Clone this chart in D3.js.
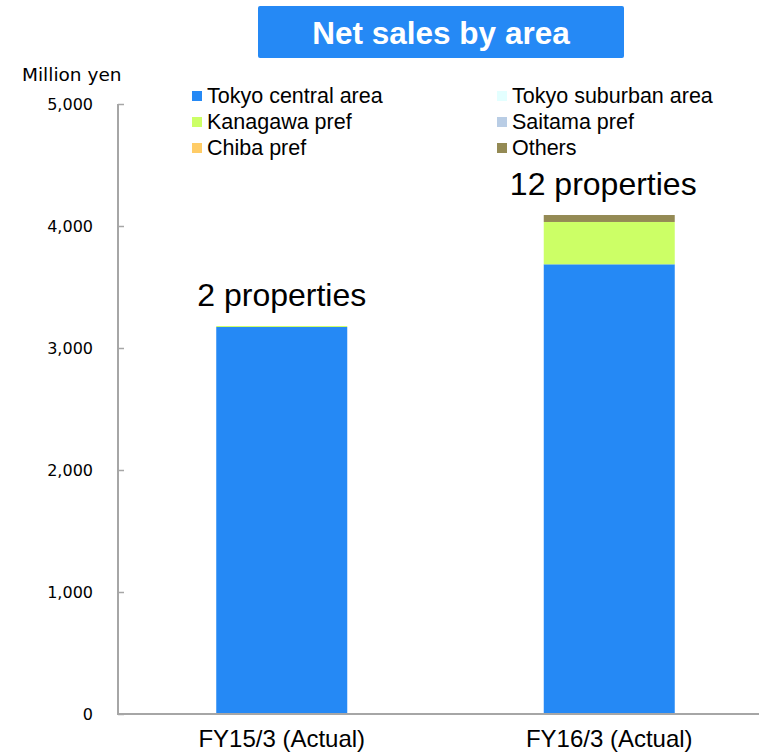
<!DOCTYPE html>
<html>
<head>
<meta charset="utf-8">
<script src="https://cdn.jsdelivr.net/npm/d3@7"></script>
<style>
  html, body { margin: 0; padding: 0; background: #fff; }
  svg { display: block; }
</style>
</head>
<body>
<script>
// Fiscal years on the x axis
const periods = ["FY15/3 (Actual)", "FY16/3 (Actual)"];
// Net sales by area, million yen
const tokyoCentral  = [3172, 3686];
const tokyoSuburban = [0, 0];
const kanagawa      = [8, 347];
const saitama       = [0, 0];
const chiba         = [0, 0];
const others        = [0, 57];
// Property counts shown above each bar
const propertyLabels = ["2 properties", "12 properties"];
// Y axis ticks
const yTicks = [0, 1000, 2000, 3000, 4000, 5000];

const seriesNames = ["Tokyo central area", "Tokyo suburban area", "Kanagawa pref", "Saitama pref", "Chiba pref", "Others"];
const seriesValues = [tokyoCentral, tokyoSuburban, kanagawa, saitama, chiba, others];
const seriesColors = ["#2589f5", "#e3ffff", "#ccff66", "#b9cde5", "#ffcc66", "#948a54"];

const SANS = "'Liberation Sans', Arial, sans-serif";
const AXISFONT = "'DejaVu Sans', Verdana, sans-serif";

const W = 759, H = 753;
const svg = d3.select("body").append("svg").attr("width", W).attr("height", H);

const x = d3.scaleBand().domain(periods).range([118, 773]).paddingInner(0.6).paddingOuter(0.3);
const y = d3.scaleLinear().domain([0, 5000]).range([714, 104]);

// Title banner
const title = svg.append("g");
title.append("rect").attr("x", 258).attr("y", 6).attr("width", 366).attr("height", 52)
  .attr("rx", 2).attr("fill", "#2589f5");
title.append("text").attr("x", 441).attr("y", 44).attr("text-anchor", "middle")
  .attr("font-family", SANS).attr("font-weight", "bold")
  .attr("font-size", 31.5).attr("fill", "#fff").text("Net sales by area");

// Stacked data
const rows = periods.map((p, i) => {
  const r = { period: p };
  seriesNames.forEach((n, k) => r[n] = seriesValues[k][i]);
  return r;
});
const stacked = d3.stack().keys(seriesNames)(rows);

svg.append("g").selectAll("g").data(stacked).join("g")
  .attr("fill", (d, k) => seriesColors[k])
  .selectAll("rect").data(d => d.filter(s => s[1] - s[0] > 0)).join("rect")
  .attr("x", d => x(d.data.period))
  .attr("width", x.bandwidth())
  .attr("y", d => y(d[1]))
  .attr("height", d => y(d[0]) - y(d[1]));

// Y axis with inward ticks
const yAxis = svg.append("g").attr("transform", "translate(118,0)")
  .call(d3.axisRight(y).tickValues(yTicks).tickSize(6).tickFormat(""));
yAxis.select(".domain").attr("stroke", "#a6a6a6").attr("stroke-width", 2).attr("d", "M0,104V714");
yAxis.selectAll(".tick line").attr("stroke", "#a6a6a6").attr("stroke-width", 1.5);

svg.append("g").selectAll("text").data(yTicks).join("text")
  .attr("x", 93).attr("y", d => y(d) + 6).attr("text-anchor", "end")
  .attr("font-family", AXISFONT).attr("font-size", 16).attr("fill", "#000")
  .text(d => d3.format(",")(d));

svg.append("text").attr("x", 22).attr("y", 81)
  .attr("font-family", AXISFONT).attr("font-size", 18.5).attr("fill", "#000")
  .text("Million yen");

// X axis baseline and category labels
svg.append("line").attr("x1", 117).attr("x2", 759).attr("y1", 714).attr("y2", 714)
  .attr("stroke", "#a6a6a6").attr("stroke-width", 2);
svg.append("g").selectAll("text").data(periods).join("text")
  .attr("x", d => x(d) + x.bandwidth() / 2).attr("y", 747).attr("text-anchor", "middle")
  .attr("font-family", SANS).attr("font-size", 24).attr("fill", "#000")
  .text(d => d);

// Property counts above bars (the second label sits slightly left of its bar)
const totals = rows.map(r => d3.sum(seriesNames, n => r[n]));
const labelShift = [0, -6];
svg.append("g").selectAll("text").data(periods).join("text")
  .attr("x", (d, i) => x(d) + x.bandwidth() / 2 + labelShift[i])
  .attr("y", (d, i) => y(totals[i]) - 20)
  .attr("text-anchor", "middle")
  .attr("font-family", SANS).attr("font-size", 32).attr("fill", "#000")
  .text((d, i) => propertyLabels[i]);

// Legend, two columns
const legend = svg.append("g");
seriesNames.forEach((n, k) => {
  const col = k % 2, row = Math.floor(k / 2);
  const lx = col === 0 ? 192 : 497, ly = 96 + row * 26;
  legend.append("rect").attr("x", lx).attr("y", ly - 5).attr("width", 10).attr("height", 10)
    .attr("fill", seriesColors[k]);
  legend.append("text").attr("x", lx + 15).attr("y", ly + 7)
    .attr("font-family", SANS).attr("font-size", 21.5).attr("fill", "#000")
    .text(n);
});
</script>
</body>
</html>
